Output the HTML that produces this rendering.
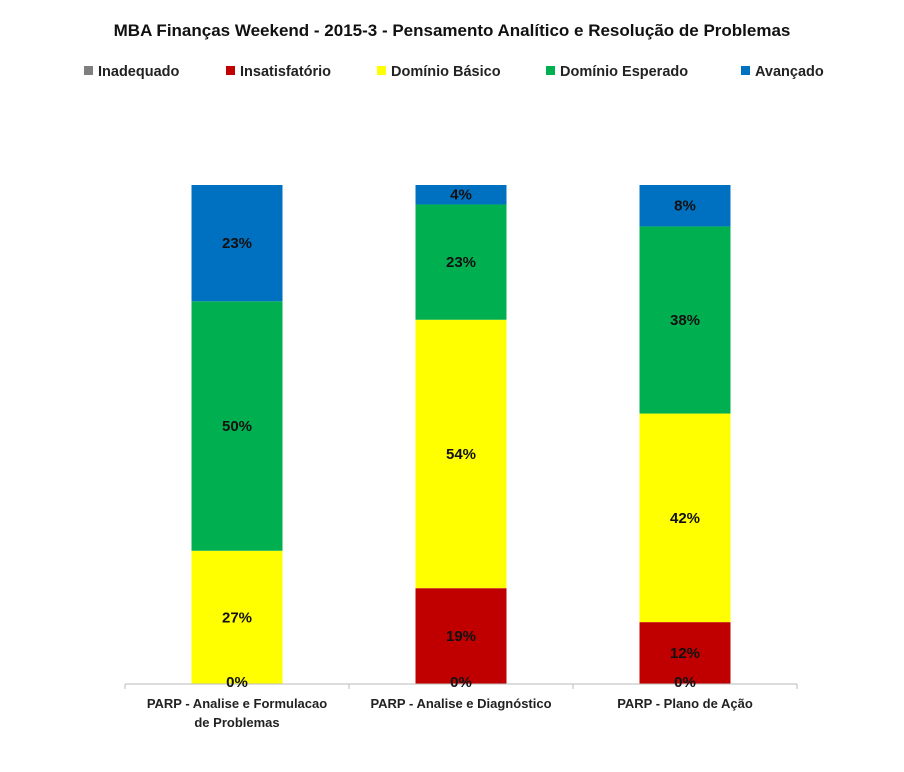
<!DOCTYPE html>
<html><head><meta charset="utf-8"><style>
body{margin:0;background:#fff;width:904px;height:767px;overflow:hidden;font-family:"Liberation Sans",sans-serif}
</style></head><body>
<svg width="904" height="767" id="c">
<text x="452" y="36" text-anchor="middle" font-size="17" font-weight="bold" fill="#111">MBA Finanças Weekend - 2015-3 - Pensamento Analítico e Resolução de Problemas</text>
<g id="legend"></g>
<g id="bars"></g>
<line x1="125" y1="684" x2="797" y2="684" stroke="#bbb"/>
<g id="ax"></g>
<g id="labels"></g>
</svg>
<script>
const categories=[["PARP - Analise e Formulacao","de Problemas"],["PARP - Analise e Diagnóstico"],["PARP - Plano de Ação"]];
const seriesNames=["Inadequado","Insatisfatório","Domínio Básico","Domínio Esperado","Avançado"];
const seriesColors=["#7f7f7f","#c00000","#ffff00","#00b050","#0070c0"];
const inadequado=[0,0,0];
const insatisfatorio=[0,19.2,12.4];
const basico=[26.7,53.8,41.8];
const esperado=[50,23.1,37.5];
const avancado=[23.3,3.9,8.3];
const series=[inadequado,insatisfatorio,basico,esperado,avancado];
const NS="http://www.w3.org/2000/svg";
const top0=185,bot=684,left=125,slot=224,bw=91;
const y=v=>bot-(v/100)*(bot-top0);
function mk(t,a,p){const e=document.createElementNS(NS,t);for(const k in a)e.setAttribute(k,a[k]);p.appendChild(e);return e;}
const lg=document.getElementById('legend');
const lx=[84,226,377,546,741];
seriesNames.forEach((n,i)=>{
 const g=mk('g',{},lg);
 
 
 mk('rect',{x:lx[i],y:66,width:9,height:9,fill:seriesColors[i]},g);
 const t=mk('text',{x:lx[i]+14,y:76,'font-size':14.5,'font-weight':'bold',fill:'#222'},g);t.textContent=n;
});
const bg=document.getElementById('bars');
const lb=document.getElementById('labels');
categories.forEach((c,ci)=>{
 const cx=left+slot*ci+slot/2;let cum=0;
 series.forEach((s,si)=>{
  const v=s[ci];const y1=y(cum),y2=y(cum+v);
  if(v>0){const r=mk('rect',{x:cx-bw/2,y:y2,width:bw,height:y1-y2,fill:seriesColors[si]},bg);
   
   }
  if(si>0||v===0){
   const ly=v===0?bot+3:(y1+y2)/2+5;
   if(!(v===0&&si>0)){const t=mk('text',{x:cx,y:ly,'text-anchor':'middle','font-size':15,'font-weight':'bold',fill:'#111'},lb);
    
    
    t.textContent=Math.round(v)+'%';}
  }
  cum+=v;
 });
});
const ax=document.getElementById('ax');
for(let i=0;i<=3;i++)mk('line',{x1:left+slot*i,y1:684,x2:left+slot*i,y2:689,stroke:'#bbb'},ax);
categories.forEach((c,ci)=>{
 const cx=left+slot*ci+slot/2;
 c.forEach((l,li)=>{const t=mk('text',{x:cx,y:708+li*19,'text-anchor':'middle','font-size':13,'font-weight':'bold',fill:'#222'},ax);
  
  
  t.textContent=l;});
});
</script>
</body></html>
